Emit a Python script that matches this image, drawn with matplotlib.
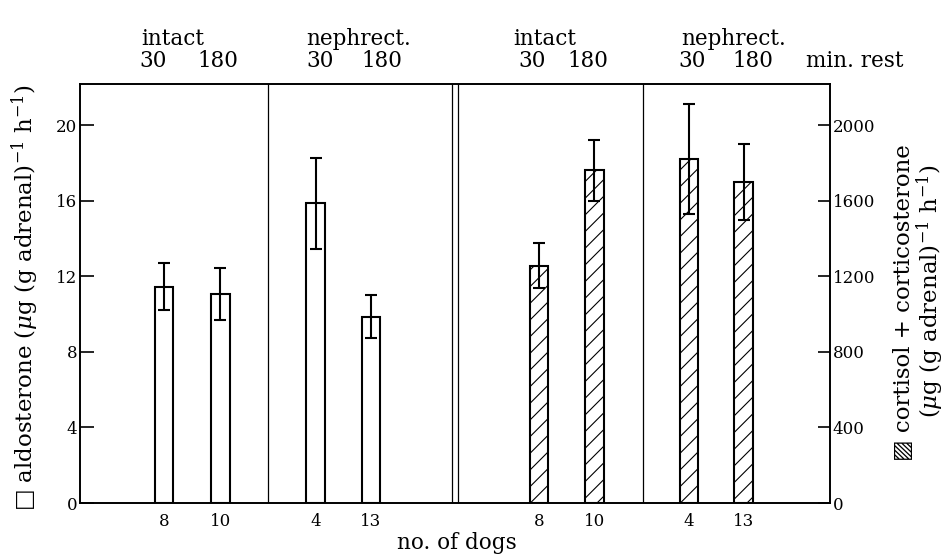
import matplotlib
matplotlib.use("Agg")
import matplotlib.pyplot as plt

# ---------------- data ----------------
conditions = ["intact", "nephrect.", "intact", "nephrect."]
rest_times = ["30", "180", "30", "180", "30", "180", "30", "180"]
n_dogs = ["8", "10", "4", "13", "8", "10", "4", "13"]
aldosterone = [11.45, 11.06, 15.86, 9.86]
aldosterone_err = [1.25, 1.37, 2.40, 1.13]
cortisol = [1256, 1760, 1821, 1698]
cortisol_err = [121, 161, 290, 199]
left_ticks = [0, 4, 8, 12, 16, 20]
right_ticks = [0, 400, 800, 1200, 1600, 2000]

# ---------------- layout ----------------
bar_pos = [11.2, 18.7, 31.4, 38.8, 61.2, 68.6, 81.2, 88.5]
bar_w = 2.5
sep_pos = [25.0, 49.55, 50.45, 75.0]
cond_label_x = [12.3, 37.1, 61.9, 87.2]
rest_label_x = [9.7, 18.4, 32.0, 40.3, 60.3, 67.7, 81.6, 89.7]

plt.rcParams['font.family'] = ['DejaVu Serif', 'DejaVu Sans']
plt.rcParams['mathtext.fontset'] = 'dejavuserif'
plt.rcParams['hatch.linewidth'] = 0.8

W, H = 946, 558
fig = plt.figure(figsize=(W / 100, H / 100), dpi=100)
ax = fig.add_axes([80 / W, 55 / H, 750 / W, 419 / H])
ax.set_xlim(0, 100)
ymax = 419 / 18.9
ax.set_ylim(0, ymax)
ax2 = ax.twinx()
ax2.set_ylim(0, ymax * 100)

for a in (ax, ax2):
    for s in a.spines.values():
        s.set_linewidth(1.2)

# separators
for x in sep_pos:
    ax.axvline(x, color='black', lw=0.9, zorder=1)

# aldosterone bars (open)
ax.bar(bar_pos[:4], aldosterone, width=bar_w, facecolor='white',
       edgecolor='black', linewidth=1.5, zorder=2)
ax.errorbar(bar_pos[:4], aldosterone, yerr=aldosterone_err, fmt='none',
            ecolor='black', elinewidth=1.5, capsize=4.5, capthick=1.5, zorder=3)

# cortisol bars (hatched)
ax2.bar(bar_pos[4:], cortisol, width=bar_w, facecolor='white',
        edgecolor='black', linewidth=1.5, hatch='//', zorder=2)
ax2.errorbar(bar_pos[4:], cortisol, yerr=cortisol_err, fmt='none',
             ecolor='black', elinewidth=1.5, capsize=4.5, capthick=1.5, zorder=3)

# ticks
ax.set_yticks(left_ticks)
ax.set_yticklabels([str(t) for t in left_ticks], fontsize=12)
ax.tick_params(axis='y', direction='in', length=10, width=1.2, pad=2)
ax2.set_yticks(right_ticks)
ax2.set_yticklabels([str(t) for t in right_ticks], fontsize=12)
ax2.tick_params(axis='y', direction='in', length=9, width=1.2, pad=2)
ax.set_xticks(bar_pos)
ax.set_xticklabels(n_dogs, fontsize=12)
ax.tick_params(axis='x', length=0, pad=7)

# top labels
tr = ax.get_xaxis_transform()
for x, lab in zip(cond_label_x, conditions):
    ax.text(x, (503 - 45) / 419, lab, transform=tr, ha='center', va='baseline',
            fontsize=15.5, clip_on=False)
for x, lab in zip(rest_label_x, rest_times):
    ax.text(x, (503 - 67) / 419, lab, transform=tr, ha='center', va='baseline',
            fontsize=15.5, clip_on=False)
ax.text(103.3, (503 - 67) / 419, "min. rest", transform=tr, ha='center',
        va='baseline', fontsize=15.5, clip_on=False)

# axis titles
fig.text(457 / W, 1 - 543 / H, "no. of dogs", ha='center', va='center', fontsize=15.5)
fig.text(25 / W, 1 - 298 / H,
         "\u25a1 aldosterone ($\\mu$g (g adrenal)$^{-1}$ h$^{-1}$)",
         rotation=90, ha='center', va='center', fontsize=16.5)
fig.text(904 / W, 1 - 303 / H, "\u25a8 cortisol + corticosterone",
         rotation=90, ha='center', va='center', fontsize=16.5)
fig.text(930 / W, 1 - 291 / H, "($\\mu$g (g adrenal)$^{-1}$ h$^{-1}$)",
         rotation=90, ha='center', va='center', fontsize=16.5)

fig.savefig("out.png", dpi=100)
